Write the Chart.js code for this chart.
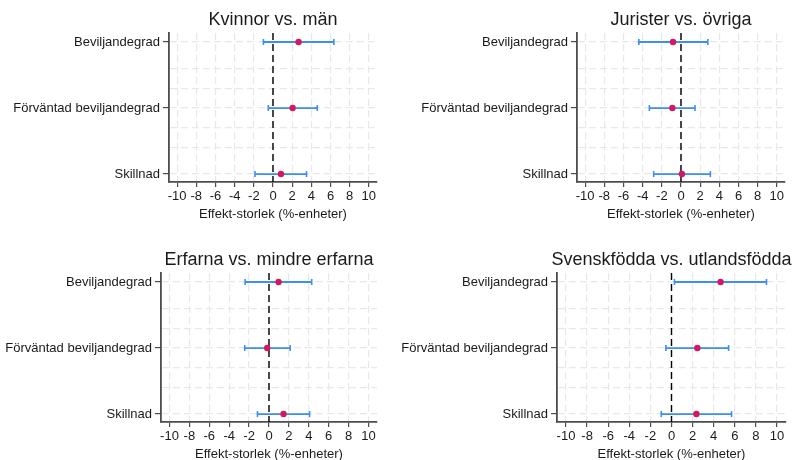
<!DOCTYPE html>
<html>
<head>
<meta charset="utf-8">
<script src="https://cdn.jsdelivr.net/npm/chart.js@4/dist/chart.umd.min.js"></script>
<style>
  html, body { margin: 0; padding: 0; background: #ffffff; }
  body { width: 796px; height: 460px; position: relative; overflow: hidden; }
  canvas { position: absolute; }
</style>
</head>
<body>
<canvas id="c1" width="398" height="222" style="left:0px;top:0px"></canvas>
<canvas id="c2" width="398" height="222" style="left:398px;top:0px"></canvas>
<canvas id="c3" width="398" height="222" style="left:0px;top:240px"></canvas>
<canvas id="c4" width="398" height="222" style="left:398px;top:240px"></canvas>
<script>
// ---- Data ----
const rowLabels = ['Beviljandegrad', 'Förväntad beviljandegrad', 'Skillnad'];
const xTickValues = [-10, -8, -6, -4, -2, 0, 2, 4, 6, 8, 10];
const yGridValues = [1, 1.4, 1.7, 2, 2.3, 2.6, 3];
const axisTitle = 'Effekt-storlek (%-enheter)';

const titleKvinnor = 'Kvinnor vs. män';
const estKvinnor  = [2.67, 2.05, 0.83];
const lowKvinnor  = [-1.0, -0.49, -1.88];
const highKvinnor = [6.35, 4.62, 3.50];

const titleJurister = 'Jurister vs. övriga';
const estJurister  = [-0.83, -0.90, 0.10];
const lowJurister  = [-4.40, -3.30, -2.85];
const highJurister = [2.80, 1.46, 3.06];

const titleErfarna = 'Erfarna vs. mindre erfarna';
const estErfarna  = [0.96, -0.18, 1.46];
const lowErfarna  = [-2.40, -2.44, -1.16];
const highErfarna = [4.29, 2.13, 4.08];

const titleSvensk = 'Svenskfödda vs. utlandsfödda';
const estSvensk  = [4.65, 2.45, 2.36];
const lowSvensk  = [0.28, -0.53, -0.97];
const highSvensk = [9.00, 5.41, 5.69];

// ---- Styling ----
const FONT = '"Liberation Sans", Arial, sans-serif';
const BLUE = '#3b8ef3';
const RED = '#d6175d';
const AXIS = '#4d4d4d';
const GRID = '#e8e8e8';
const TEXT = '#1a1a1a';
const X_MIN = -10.85, X_MAX = 10.85;
const Y_MIN = 0.864, Y_MAX = 3.12;

const titlePlugin = {
  id: 'panelTitle',
  afterDraw(chart) {
    const t = chart.options.plugins.panelTitle;
    if (!t || !t.text) return;
    const ctx = chart.ctx;
    const a = chart.chartArea;
    ctx.save();
    ctx.font = '18px ' + FONT;
    ctx.fillStyle = TEXT;
    ctx.textAlign = 'center';
    ctx.textBaseline = 'middle';
    ctx.fillText(t.text, (a.left + a.right) / 2, t.y);
    ctx.restore();
  }
};

function makePanel(id, title, est, low, high, plotLeft, plotRight) {
  const canvas = document.getElementById(id);
  const W = canvas.width;
  const datasets = [];
  datasets.push({
    type: 'scatter',
    data: est.map((v, i) => ({x: v, y: i + 1})),
    pointStyle: 'circle',
    pointRadius: 3.2,
    pointBackgroundColor: RED,
    pointBorderColor: RED,
    pointBorderWidth: 0,
    order: 0
  });
  datasets.push({
    type: 'line',
    data: [{x: 0, y: Y_MIN}, {x: 0, y: Y_MAX}],
    borderColor: '#000000',
    borderWidth: 1.4,
    borderDash: [7, 4],
    pointRadius: 0,
    fill: false,
    order: 1
  });
  const caps = [];
  low.forEach((v, i) => caps.push({x: v, y: i + 1}));
  high.forEach((v, i) => caps.push({x: v, y: i + 1}));
  datasets.push({
    type: 'scatter',
    data: caps,
    pointStyle: 'line',
    rotation: 90,
    pointRadius: 3,
    pointBorderColor: BLUE,
    pointBorderWidth: 1.6,
    order: 2
  });
  low.forEach((v, i) => {
    datasets.push({
      type: 'line',
      data: [{x: v, y: i + 1}, {x: high[i], y: i + 1}],
      borderColor: BLUE,
      borderWidth: 1.8,
      pointRadius: 0,
      fill: false,
      order: 3
    });
  });

  return new Chart(canvas, {
    type: 'scatter',
    data: { datasets },
    plugins: [titlePlugin],
    options: {
      responsive: false,
      animation: false,
      devicePixelRatio: 1,
      layout: { padding: { top: 33, left: 0, right: W - plotRight, bottom: 0 } },
      plugins: {
        legend: { display: false },
        tooltip: { enabled: false },
        title: { display: false },
        panelTitle: { text: title, y: 20 }
      },
      scales: {
        x: {
          type: 'linear',
          min: X_MIN,
          max: X_MAX,
          afterBuildTicks: (s) => { s.ticks = xTickValues.map(v => ({value: v})); },
          afterFit: (s) => { s.height = 40; },
          ticks: {
            color: TEXT,
            font: { family: FONT, size: 13 },
            padding: 2,
            maxRotation: 0,
            autoSkip: false,
            callback: (v) => String(v)
          },
          grid: {
            color: GRID,
            lineWidth: 1.2,
            tickColor: AXIS,
            tickLength: 5,
            tickWidth: 1.2
          },
          border: { display: true, color: AXIS, width: 1.8, dash: [7, 4] },
          title: {
            display: true,
            text: axisTitle,
            color: TEXT,
            font: { family: FONT, size: 13 },
            padding: { top: 0, bottom: 0 }
          }
        },
        y: {
          type: 'linear',
          reverse: true,
          min: Y_MIN,
          max: Y_MAX,
          afterBuildTicks: (s) => { s.ticks = yGridValues.map(v => ({value: v})); },
          afterFit: (s) => { s.width = plotLeft; },
          ticks: {
            color: TEXT,
            font: { family: FONT, size: 13 },
            padding: 3,
            autoSkip: false,
            callback: (v) => Number.isInteger(v) ? rowLabels[v - 1] : ''
          },
          grid: {
            color: GRID,
            lineWidth: 1.2,
            tickColor: (c) => (c.tick && Number.isInteger(c.tick.value)) ? AXIS : 'rgba(0,0,0,0)',
            tickLength: 6,
            tickWidth: 1.2
          },
          border: { display: true, color: AXIS, width: 1.8, dash: [7, 4] }
        }
      }
    }
  });
}

makePanel('c1', titleKvinnor, estKvinnor, lowKvinnor, highKvinnor, 169, 377);
makePanel('c2', titleJurister, estJurister, lowJurister, highJurister, 179, 387);
makePanel('c3', titleErfarna, estErfarna, lowErfarna, highErfarna, 161, 377);
makePanel('c4', titleSvensk, estSvensk, lowSvensk, highSvensk, 159, 388);
</script>
</body>
</html>
